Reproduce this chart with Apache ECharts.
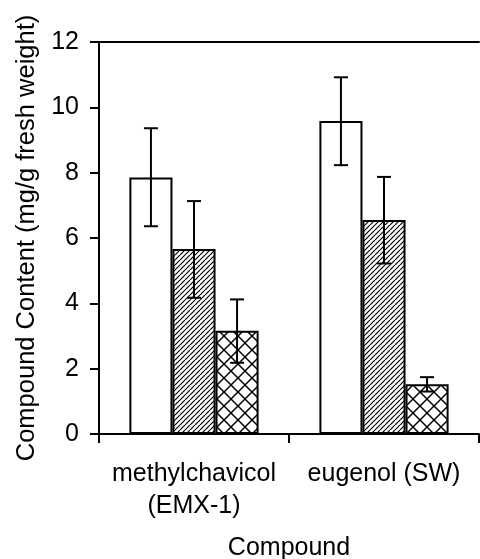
<!DOCTYPE html>
<html>
<head>
<meta charset="utf-8">
<script src="https://cdn.jsdelivr.net/npm/echarts@6/dist/echarts.min.js"></script>
<style>
html,body{margin:0;padding:0;background:#fff;}
#chart{width:480px;height:559px;}
</style>
</head>
<body>
<div id="chart"></div>
<script>
// ---- data ----
var categories = ['methylchavicol\n(EMX-1)', 'eugenol (SW)'];
var seriesA = [7.85, 9.58];        // open bars
var seriesB = [5.66, 6.55];        // diagonal hatch
var seriesC = [3.16, 1.52];        // cross hatch
var errA = [[6.36, 9.36], [8.23, 10.92]];
var errB = [[4.17, 7.13], [5.22, 7.87]];
var errC = [[2.18, 4.12], [1.30, 1.74]];
var yTicks = [0, 2, 4, 6, 8, 10, 12];

// ---- patterns ----
function diagPattern() {
  var s = 5;
  var c = document.createElement('canvas');
  c.width = s; c.height = s;
  var g = c.getContext('2d');
  g.fillStyle = '#fff'; g.fillRect(0, 0, s, s);
  g.strokeStyle = '#000'; g.lineWidth = 1.2;
  for (var k = -s; k <= s; k += s) {
    g.beginPath(); g.moveTo(k, s); g.lineTo(k + s, 0); g.stroke();
  }
  return c;
}
function crossPattern() {
  var s = 14;
  var c = document.createElement('canvas');
  c.width = s; c.height = s;
  var g = c.getContext('2d');
  g.fillStyle = '#fff'; g.fillRect(0, 0, s, s);
  g.strokeStyle = '#000'; g.lineWidth = 1.5;
  for (var k = -s; k <= s; k += s) {
    g.beginPath(); g.moveTo(k, s); g.lineTo(k + s, 0); g.stroke();
    g.beginPath(); g.moveTo(k, 0); g.lineTo(k + s, s); g.stroke();
  }
  return c;
}

var FONT = 'Liberation Sans, Arial, sans-serif';
var chart = echarts.init(document.getElementById('chart'));

var nBars = 3, catGap = 0.32;
function errSeries(err, idx) {
  return {
    type: 'custom',
    xAxisIndex: 0,
    z: 10,
    data: err.map(function (e, i) { return [i, e[0], e[1]]; }),
    renderItem: function (params, api) {
      var ci = api.value(0);
      var lo = api.coord([ci, api.value(1)]);
      var hi = api.coord([ci, api.value(2)]);
      var catW = api.size([1, 0])[0];
      var bw = catW * (1 - catGap) / nBars;
      var x = lo[0] + (idx - (nBars - 1) / 2) * bw;
      var cap = 7;
      var st = { stroke: '#000', lineWidth: 2 };
      return {
        type: 'group',
        children: [
          { type: 'line', shape: { x1: x, y1: lo[1], x2: x, y2: hi[1] }, style: st },
          { type: 'line', shape: { x1: x - cap, y1: hi[1], x2: x + cap, y2: hi[1] }, style: st },
          { type: 'line', shape: { x1: x - cap, y1: lo[1], x2: x + cap, y2: lo[1] }, style: st }
        ]
      };
    }
  };
}

function barSeries(data, fill) {
  return {
    type: 'bar',
    xAxisIndex: 0,
    data: data,
    barGap: '0%',
    barCategoryGap: (catGap * 100) + '%',
    itemStyle: { color: fill, borderColor: '#000', borderWidth: 2 },
    silent: true
  };
}

chart.setOption({
  animation: false,
  backgroundColor: '#fff',
  grid: { left: 99, right: 1, top: 42, bottom: 125, containLabel: false, outerBoundsMode: 'none' },
  xAxis: [{
    type: 'category',
    data: categories,
    position: 'bottom',
    axisLine: { lineStyle: { color: '#000', width: 2 } },
    axisTick: { show: true, length: 9, lineStyle: { color: '#000', width: 2 } },
    axisLabel: { interval: 0, color: '#000', fontFamily: FONT, fontSize: 25, lineHeight: 32, margin: 24 },
    name: 'Compound',
    nameLocation: 'middle',
    nameGap: 102,
    nameTextStyle: { color: '#000', fontFamily: FONT, fontSize: 25 },
    splitLine: { show: false }
  }, {
    type: 'category',
    data: categories,
    position: 'top',
    axisLine: { lineStyle: { color: '#000', width: 2 } },
    axisTick: { show: false },
    axisLabel: { show: false },
    splitLine: { show: false }
  }],
  yAxis: {
    type: 'value',
    min: yTicks[0],
    max: yTicks[yTicks.length - 1],
    interval: 2,
    axisLine: { show: true, lineStyle: { color: '#000', width: 2 } },
    axisTick: { show: true, length: 9, lineStyle: { color: '#000', width: 2 } },
    axisLabel: { color: '#000', fontFamily: FONT, fontSize: 25, margin: 20 },
    splitLine: { show: false },
    name: 'Compound Content (mg/g fresh weight)',
    nameLocation: 'middle',
    nameGap: 57,
    nameTextStyle: { color: '#000', fontFamily: FONT, fontSize: 25.5 }
  },
  series: [
    barSeries(seriesA, '#fff'),
    barSeries(seriesB, { image: diagPattern(), repeat: 'repeat' }),
    barSeries(seriesC, { image: crossPattern(), repeat: 'repeat' }),
    errSeries(errA, 0),
    errSeries(errB, 1),
    errSeries(errC, 2)
  ]
});
</script>
</body>
</html>
